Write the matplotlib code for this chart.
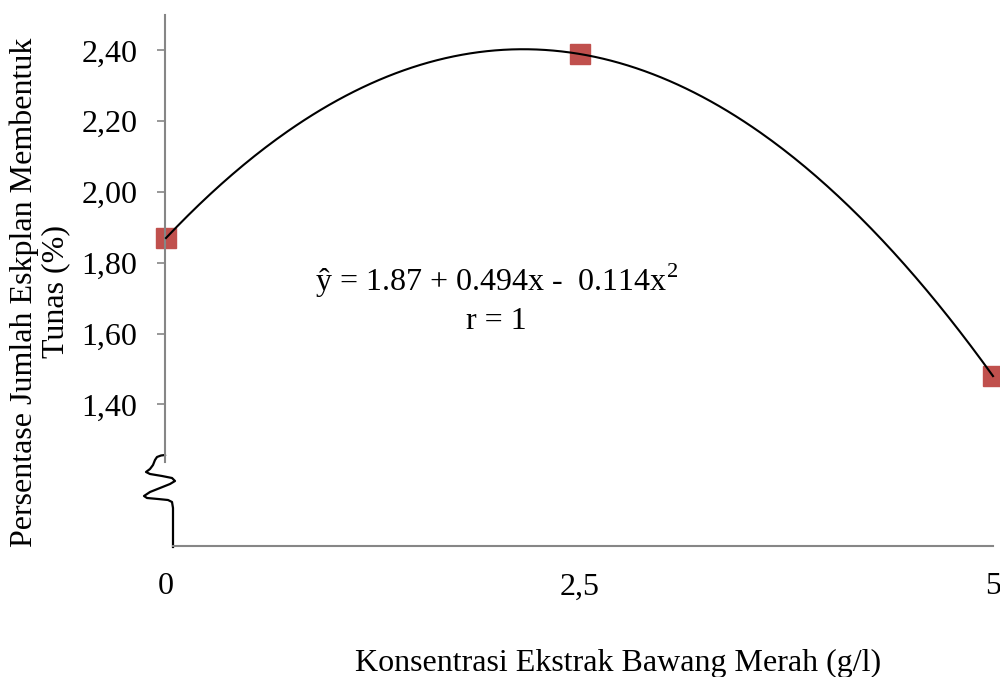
import numpy as np
import matplotlib
matplotlib.use("Agg")
import matplotlib.pyplot as plt

# Data
konsentrasi = [0, 2.5, 5]
persentase = [1.87, 2.39, 1.48]
x_tick_labels = ["0", "2,5", "5"]
y_ticks = [1.40, 1.60, 1.80, 2.00, 2.20, 2.40]
y_tick_labels = ["1,40", "1,60", "1,80", "2,00", "2,20", "2,40"]
equation = "ŷ = 1.87 + 0.494x -  0.114x$^2$"
r_text = "r = 1"

plt.rcParams['font.family'] = ['Liberation Serif', 'DejaVu Serif']
plt.rcParams['mathtext.fontset'] = 'custom'
plt.rcParams['mathtext.rm'] = 'Liberation Serif'

FS = 23
W, H = 1000, 677
fig = plt.figure(figsize=(W/100, H/100), dpi=100)
L, R, T, B = 166, 993, 15, 546
ax = fig.add_axes([L/W, 1-B/H, (R-L)/W, (B-T)/H])
ax.set_xlim(0, 5)
ax.set_ylim(1.0, 2.5)

# fitted quadratic trend
coef = np.polyfit(konsentrasi, persentase, 2)
xs = np.linspace(0, 5, 300)
ax.plot(xs, np.polyval(coef, xs), color='black', lw=1.5, zorder=3, clip_on=False)
ax.plot(konsentrasi, persentase, 's', color='#C0504D', ms=14, zorder=2, clip_on=False)

gray = '#868686'
for s in ['top', 'right']:
    ax.spines[s].set_visible(False)
ax.spines['left'].set_color(gray)
ax.spines['bottom'].set_color(gray)
ax.spines['left'].set_linewidth(1.5)
ax.spines['bottom'].set_linewidth(1.5)

def px2data(px, py):
    return (px - L) / (R - L) * 5, 1.0 + (B - py) / (B - T) * 1.5

ax.spines['left'].set_bounds(px2data(0, 462)[1], 2.5)
ax.spines['bottom'].set_bounds(px2data(173, 0)[0], 5)
ax.spines['left'].set_position(('data', px2data(165, 0)[0]))

# axis break squiggle
sq_px = [(165, 455), (161, 455.5), (157, 457), (155, 460), (153, 465), (150, 469), (146, 472),
         (150, 474), (162, 476), (172, 478), (175, 481), (170, 484), (160, 488), (150, 492),
         (144, 496), (147, 498), (158, 499), (168, 500), (172, 502), (173, 508), (173, 547)]
sx, sy = zip(*[px2data(a, b) for a, b in sq_px])
ax.plot(sx, sy, color='black', lw=1.6, clip_on=False, solid_joinstyle='round')

ax.set_yticks(y_ticks)
ax.set_yticklabels(y_tick_labels, fontsize=FS)
ax.tick_params(axis='y', length=6, width=1.2, color=gray, pad=14)
ax.set_xticks(konsentrasi)
ax.set_xticklabels(x_tick_labels, fontsize=FS)
ax.tick_params(axis='x', length=0, pad=19)

ax.text(2.0, 1.75, equation, fontsize=FS, ha='center', va='center')
ax.text(2.0, 1.635, r_text, fontsize=FS, ha='center', va='center')

fig.text(40/W, 1-292/H, "Persentase Jumlah Eskplan Membentuk\nTunas (%)", rotation=90,
         ha='center', va='center', fontsize=FS, linespacing=1.1, multialignment='center')
fig.text(618/W, 1-671/H, "Konsentrasi Ekstrak Bawang Merah (g/l)", ha='center', va='baseline', fontsize=FS)

fig.savefig("out.png", dpi=100)
